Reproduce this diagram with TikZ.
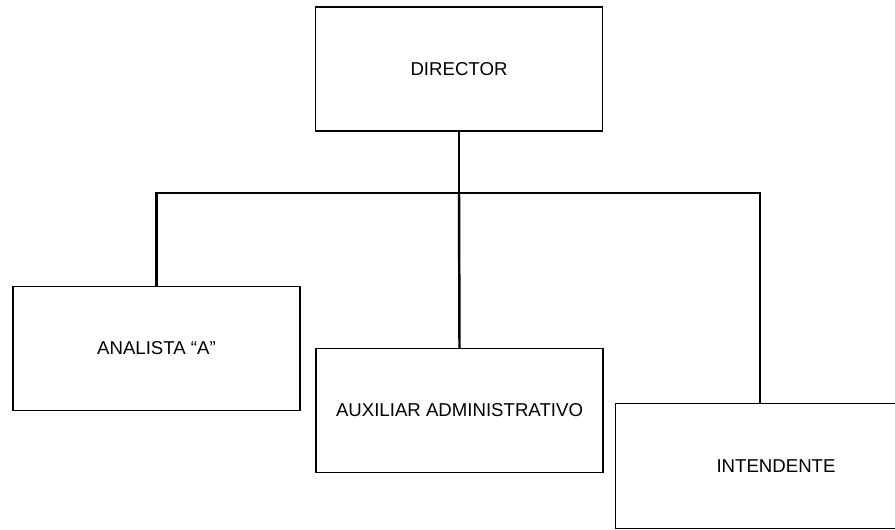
\documentclass[tikz,border=0pt]{standalone}
\usepackage{fontspec}
\setmainfont{Liberation Sans}
\usepackage{tikz}
\usetikzlibrary{positioning,calc}

\begin{document}
\begin{tikzpicture}[
    x=0.02cm,
    y=-0.02cm,
    post/.style={
        draw=black,
        line width=0.75pt,
        minimum width=5.74cm,
        minimum height=2.48cm,
        inner sep=0pt,
        align=center,
        font=\fontsize{10.6}{12}\selectfont
    },
    link/.style={
        draw=black,
        line width=1.4pt
    }
]

\fill[white] (0,0) rectangle (895,529);
\useasboundingbox (0,0) rectangle (895,529);

\node[post] (director) at (459,69)
{DIRECTOR};

\node[post] (analista) at (156.5,348.5)
{ANALISTA ``A''};

\node[post] (auxiliar) at (459.5,410.5)
{AUXILIAR ADMINISTRATIVO};

% box runs past the right edge of the page
\node[post,draw=none,minimum width=6.4cm,text width=5.74cm] (intendente) at (776,466)
{INTENDENTE};
\draw[black,line width=0.75pt] (intendente.north west -| 895,0) -- (intendente.north west)
    -- (intendente.south west) -- (intendente.south west -| 895,0);

\coordinate (bus) at (459,193);
\coordinate (knee) at (459,161);

\draw[black,line width=0.75pt] (director.south) -- (knee);
\draw[link] (knee) -- (bus);
\draw[link] (analista.north) |- (bus) -| ([xshift=-0.32cm]intendente.north);
\draw[link] (bus) -- (auxiliar.north);

\end{tikzpicture}
\end{document}
